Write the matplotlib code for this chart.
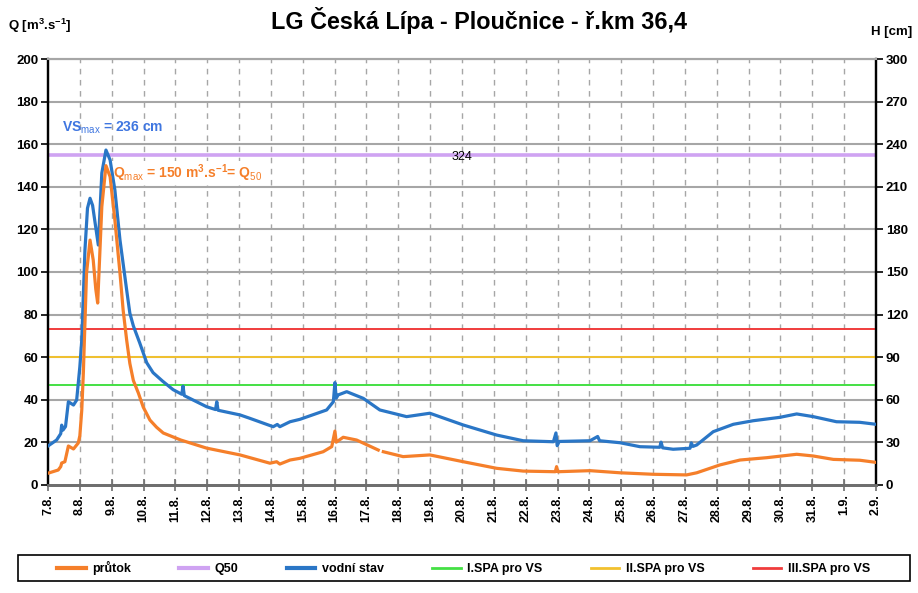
import matplotlib
matplotlib.use('Agg')
import matplotlib.pyplot as plt
import numpy as np
from matplotlib.lines import Line2D
from matplotlib.patches import Rectangle

plt.rcParams['font.family'] = ['Liberation Sans', 'DejaVu Sans']
plt.rcParams['mathtext.fontset'] = 'custom'
plt.rcParams['mathtext.rm'] = 'Liberation Sans'
plt.rcParams['mathtext.bf'] = 'Liberation Sans:bold'
plt.rcParams['mathtext.it'] = 'Liberation Sans:italic'

# ---------------- data ----------------
date_labels = ["7.8.", "8.8.", "9.8.", "10.8.", "11.8.", "12.8.", "13.8.", "14.8.",
               "15.8.", "16.8.", "17.8.", "18.8.", "19.8.", "20.8.", "21.8.", "22.8.",
               "23.8.", "24.8.", "25.8.", "26.8.", "27.8.", "28.8.", "29.8.", "30.8.",
               "31.8.", "1.9.", "2.9."]

# water level (vodní stav) [cm], time in days since 7.8. 0:00
h_time = [0.00, 0.27, 0.40, 0.43, 0.47, 0.55, 0.64, 0.80, 0.90, 1.00, 1.06, 1.16, 1.24,
          1.32, 1.40, 1.48, 1.58, 1.69, 1.82, 1.95, 2.10, 2.26, 2.47, 2.57, 2.68, 2.88,
          3.10, 3.30, 3.60, 3.93, 4.20, 4.24, 4.28, 4.98, 5.26, 5.30, 5.34, 6.03, 6.34,
          7.07, 7.20, 7.28, 7.60, 7.91, 8.75, 8.96, 9.01, 9.05, 9.11, 9.38, 9.90, 10.42,
          11.26, 11.99, 13.04, 14.09, 14.92, 15.87, 15.95, 15.99, 16.05, 17.02, 17.26,
          17.32, 17.96, 18.59, 19.21, 19.25, 19.30, 19.63, 20.16, 20.20, 20.25, 20.37,
          20.89, 21.52, 22.14, 22.98, 23.51, 24.03, 24.76, 25.49, 26.00]
h_value = [27.3, 31.5, 36.0, 42.0, 38.5, 41.0, 58.5, 56.2, 59.7, 83.2, 102.0, 165.5, 195.0,
           202.0, 197.0, 184.5, 169.0, 219.8, 236.0, 229.0, 207.8, 172.6, 137.3, 121.0, 112.0, 100.0,
           86.0, 79.0, 73.0, 67.0, 63.8, 69.5, 62.8, 55.0, 53.0, 58.5, 52.5, 49.2, 46.8,
           40.9, 42.5, 40.9, 44.4, 46.1, 52.7, 58.5, 72.0, 61.0, 63.3, 65.6, 60.9, 52.7,
           48.0, 50.4, 42.1, 35.0, 31.0, 30.3, 36.5, 27.5, 30.5, 31.0, 34.0,
           31.0, 29.6, 26.8, 26.4, 30.0, 26.0, 25.0, 25.7, 29.5, 27.0, 28.0,
           37.4, 42.6, 45.1, 47.5, 49.9, 48.0, 44.4, 44.0, 42.6]

# discharge (průtok) [m3/s]
q_time = [0.00, 0.32, 0.40, 0.43, 0.53, 0.64, 0.80, 0.95, 1.00, 1.06, 1.11, 1.21, 1.32,
          1.42, 1.50, 1.56, 1.69, 1.82, 1.95, 2.10, 2.26, 2.36, 2.47, 2.57, 2.68, 2.84,
          2.99, 3.20, 3.41, 3.62, 4.17, 4.98, 6.03, 6.97, 7.18, 7.28, 7.60, 7.91, 8.64,
          8.91, 9.01, 9.05, 9.27, 9.69, 10.37, 10.45, 10.53, 11.15, 11.99, 13.04, 14.09,
          14.92, 15.93, 15.97, 16.01, 17.02, 17.96, 19.00, 20.05, 20.37, 21.10, 21.73,
          22.57, 23.51, 24.03, 24.66, 25.49, 26.00]
q_value = [5.4, 6.9, 8.5, 10.2, 10.8, 18.2, 16.8, 19.6, 23.0, 35.0, 52.5, 99.5, 115.0,
           105.6, 92.0, 85.4, 130.7, 150.0, 144.8, 124.4, 99.5, 82.0, 68.0, 57.0, 49.0, 43.0,
           36.5, 30.4, 27.0, 24.3, 21.0, 17.2, 14.0, 10.1, 10.8, 9.7, 11.6, 12.4, 15.5,
           17.9, 25.2, 20.0, 22.3, 21.0, 16.3, np.nan, 15.5, 13.2, 14.0, 10.8, 7.7,
           6.4, 6.1, 8.5, 6.1, 6.6, 5.6, 4.9, 4.6, 5.6, 9.3, 11.6,
           12.7, 14.3, 13.5, 11.9, 11.5, 10.5]

q50 = 155          # m3/s
spa_levels = [70, 90, 110]   # cm  I., II., III. SPA

# ---------------- style ----------------
C_Q = '#f57f2a'
C_H = '#2a76c6'
C_Q50 = '#cfa3f2'
C_SPA = ['#44e044', '#f2c12e', '#f03c3c']
GRID = '#a6a6a6'

fig = plt.figure(figsize=(9.18, 5.93), dpi=100)
L, R = 48 / 918, 876 / 918
B, T = 1 - 484.7 / 593, 1 - 59.3 / 593
ax1 = fig.add_axes([L, B, R - L, T - B])
ax2 = ax1.twinx()

ndays = len(date_labels) - 1
ax1.set_xlim(0, ndays)
ax1.set_ylim(0, 200)
ax2.set_ylim(0, 300)

ax1.set_xticks(range(len(date_labels)))
ax1.set_xticklabels(date_labels, rotation=90, fontsize=9, fontweight='bold')
ax1.set_yticks(range(0, 201, 20))
ax1.set_yticklabels([str(v) for v in range(0, 201, 20)], fontsize=9.5, fontweight='bold')
ax2.set_yticks(range(0, 301, 30))
ax2.set_yticklabels([str(v) for v in range(0, 301, 30)], fontsize=9.5, fontweight='bold')

# grid
for y in range(20, 201, 20):
    ax1.axhline(y, color=GRID, lw=1.5, zorder=1)
for x in range(1, ndays):
    ax1.axvline(x, color=GRID, lw=1, ls=(0, (4, 4)), zorder=1)

# threshold lines
ax1.axhline(q50, color=C_Q50, lw=2.6, zorder=2)
for lev, c in zip(spa_levels, C_SPA):
    ax2.axhline(lev, color=c, lw=1.4, zorder=2)

# data
ax2.plot(h_time, h_value, color=C_H, lw=2.3, zorder=4)
ax2.plot(q_time, q_value, color=C_Q, lw=2.3, zorder=5, transform=ax1.transData)

# annotations
ax1.text(13.0, q50 - 1, '324', fontsize=9, ha='center', va='center', color='black', zorder=6)
ax2.text(0.44, 168.0, r'VS$_{\mathrm{max}}$ = 236 cm', transform=ax1.transData,
         fontsize=10, fontweight='bold', color='#3f76e0', ha='left', va='center', zorder=6)
ax2.text(2.03, 146.5, r'Q$_{\mathrm{max}}$ = 150 m$^{\mathbf{3}}$.s$^{\mathbf{-1}}$= Q$_{\mathrm{50}}$',
         transform=ax1.transData, fontsize=10, fontweight='bold', color=C_Q, ha='left', va='center',
         zorder=3, bbox=dict(facecolor='white', edgecolor='none', pad=1.0))

# spines / ticks
for ax in (ax1, ax2):
    ax.spines['top'].set_color(GRID)
    ax.spines['top'].set_linewidth(1.5)
    ax.spines['bottom'].set_color('#6e6e6e')
    ax.spines['bottom'].set_linewidth(2)
    ax.spines['left'].set_linewidth(1.6)
    ax.spines['right'].set_linewidth(1.6)
ax1.tick_params(axis='x', direction='inout', length=8, width=1.2, color='#6e6e6e', pad=3)
ax1.tick_params(axis='y', direction='out', length=5, width=1.2, pad=2)
ax2.tick_params(axis='y', direction='out', length=5, width=1.2, pad=2)

# titles
fig.text(479 / 918, 1 - 20 / 593, 'LG Česká Lípa - Ploučnice - ř.km 36,4', fontsize=16.8,
         fontweight='bold', ha='center', va='center')
fig.text(8 / 918, 1 - 26 / 593, r'Q [m$^{\mathbf{3}}$.s$^{\mathbf{-1}}$]', fontsize=9.5,
         fontweight='bold', ha='left', va='center')
fig.text(912 / 918, 1 - 32 / 593, 'H [cm]', fontsize=9.5, fontweight='bold', ha='right', va='center')

# legend
handles = [Line2D([], [], color=C_Q, lw=3),
           Line2D([], [], color=C_Q50, lw=3),
           Line2D([], [], color=C_H, lw=3),
           Line2D([], [], color=C_SPA[0], lw=2),
           Line2D([], [], color=C_SPA[1], lw=2),
           Line2D([], [], color=C_SPA[2], lw=2)]
labels = ['průtok', 'Q50', 'vodní stav', 'I.SPA pro VS', 'II.SPA pro VS', 'III.SPA pro VS']
fig.legend(handles, labels, loc='center', bbox_to_anchor=(463.5 / 918, 1 - 568 / 593), ncol=6,
           frameon=False, prop={'weight': 'bold', 'size': 9}, handlelength=2.3,
           handletextpad=0.5, columnspacing=3.87)
fig.patches.append(Rectangle((18 / 918, 1 - 581 / 593), (910 - 18) / 918, 26 / 593,
                             transform=fig.transFigure, fill=False, edgecolor='black', lw=1.2))

fig.savefig('out.png', dpi=100)
